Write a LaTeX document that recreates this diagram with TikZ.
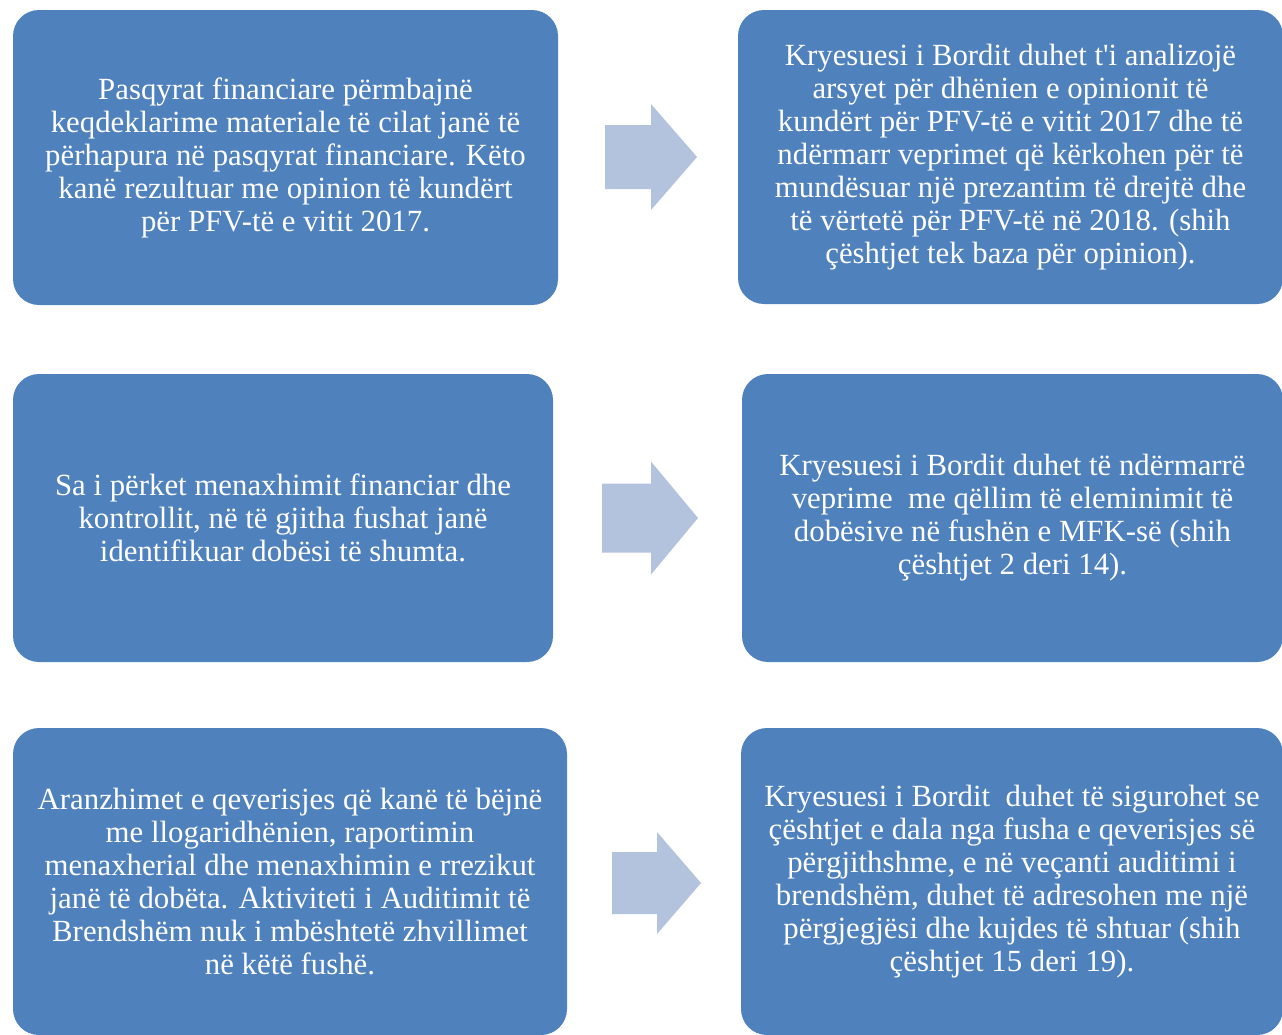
\documentclass[tikz,border=0pt]{standalone}
\usepackage{fontspec}
\setmainfont{Liberation Serif}[Ligatures=TeXOff]
\usepackage{tikz}
\usetikzlibrary{positioning}
\definecolor{boxblue}{HTML}{4F81BD}
\definecolor{arrowblue}{HTML}{B3C2DD}

% block arrow: start x, head base x, tip x, centre y, shaft half, head half
\newcommand{\blockarrow}[6]{%
  \fill[arrowblue] (#1,#4-#5) -- (#2,#4-#5) -- (#2,#4-#6) -- (#3,#4)
    -- (#2,#4+#6) -- (#2,#4+#5) -- (#1,#4+#5) -- cycle;}

\begin{document}
\begin{tikzpicture}[
    x=1pt, y=-1pt,
    infobox/.style={fill=boxblue, rounded corners=26pt, inner sep=0pt, align=center,
      text=white, font=\fontsize{30.8}{33}\selectfont},
]
    \useasboundingbox (0,0) rectangle (1282,1034);

    % Nodes - left column
    \node[infobox, minimum width=545pt, minimum height=295pt] (finance) at (285.5,157.5)
      {Pasqyrat financiare përmbajnë\\keqdeklarime materiale të cilat janë të\\përhapura në pasqyrat financiare. Këto\\kanë rezultuar me opinion të kundërt\\për PFV-të e vitit 2017.};
    \node[infobox, minimum width=540pt, minimum height=288pt] (control) at (283,518)
      {Sa i përket menaxhimit financiar dhe\\kontrollit, në të gjitha fushat janë\\identifikuar dobësi të shumta.};
    \node[infobox, minimum width=554pt, minimum height=307pt] (governance) at (290,881.5)
      {Aranzhimet e qeverisjes që kanë të bëjnë\\me llogaridhënien, raportimin\\menaxherial dhe menaxhimin e rrezikut\\janë të dobëta. Aktiviteti i Auditimit të\\Brendshëm nuk i mbështetë zhvillimet\\në këtë fushë.};

    % Nodes - right column
    \node[infobox, minimum width=545pt, minimum height=294pt] (opinion) at (1010.5,157)
      {Kryesuesi i Bordit duhet t'i analizojë\\arsyet për dhënien e opinionit të\\kundërt për PFV-të e vitit 2017 dhe të\\ndërmarr veprimet që kërkohen për të\\mundësuar një prezantim të drejtë dhe\\të vërtetë për PFV-të në 2018. (shih\\çështjet tek baza për opinion).};
    \node[infobox, minimum width=541pt, minimum height=288pt] (weakness) at (1012.5,518)
      {Kryesuesi i Bordit duhet të ndërmarrë\\veprime\ \ me qëllim të eleminimit të\\dobësive në fushën e MFK-së (shih\\çështjet 2 deri 14).};
    \node[infobox, minimum width=542pt, minimum height=307pt] (audit) at (1012,881.5)
      {Kryesuesi i Bordit\ \ duhet të sigurohet se\\çështjet e dala nga fusha e qeverisjes së\\përgjithshme, e në veçanti auditimi i\\brendshëm, duhet të adresohen me një\\përgjegjësi dhe kujdes të shtuar (shih\\çështjet 15 deri 19).};

    % Arrows
    \blockarrow{605}{651}{697}{157}{32}{53}
    \blockarrow{602}{651}{698}{518}{34.5}{56.5}
    \blockarrow{612}{657}{701}{883}{31}{51}
\end{tikzpicture}
\end{document}
